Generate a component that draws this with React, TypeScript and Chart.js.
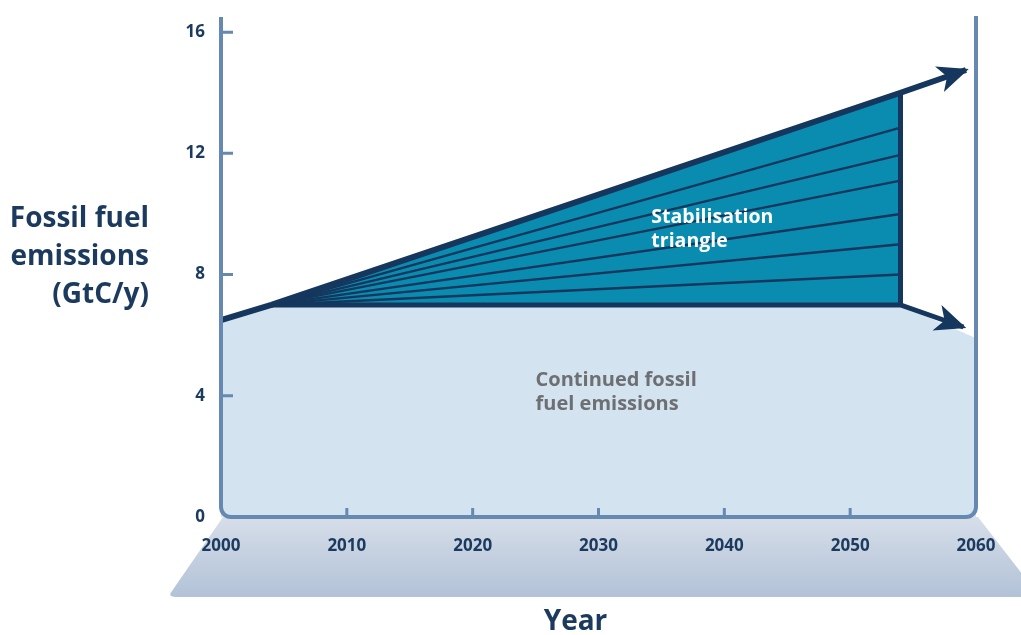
import React, { useEffect, useRef } from "react";
import { Chart, registerables } from "chart.js";

Chart.register(...registerables);

// ---- data ----
const xTickValues = [2000, 2010, 2020, 2030, 2040, 2050, 2060];
const xTickLabels = ["2000", "2010", "2020", "2030", "2040", "2050", "2060"];
const yTickValues = [0, 4, 8, 12, 16];
const yTickLabels = ["0", "4", "8", "12", "16"];

const trajectoryYears = [2000, 2004, 2054, 2059.2];
const trajectoryValues = [6.5, 7, 14, 14.75];

const baselineYears = [2004, 2054, 2059];
const baselineValues = [7, 7, 6.27];

const continuedYears = [2000, 2004, 2054, 2060];
const continuedValues = [6.5, 7, 7, 5.9];

const triangleYears = [2004, 2054];
const triangleValues = [7, 14];

const wedgeStartYear = 2004;
const wedgeStartValue = 7;
const wedgeEndYear = 2054;
const wedgeEndValues = [12.85, 11.95, 11.1, 10, 9, 8];

const edgeYears = [2054, 2054];
const edgeValues = [7, 14];

const yTitleLines = ["Fossil fuel", "emissions", "(GtC/y)"];
const xTitle = "Year";
const triangleLabel = ["Stabilisation", "triangle"];
const continuedLabel = ["Continued fossil", "fuel emissions"];

// ---- styles ----
const NAVY = "#15375d";
const TEXT_NAVY = "#1b3a5e";
const TEAL = "#0a8cb1";
const LIGHT = "#d3e3ef";
const AXIS = "#6689b2";
const GRAY_TEXT = "#6e6f72";
const FONT = "'Open Sans', 'Noto Sans', sans-serif";

const pts = (xs: number[], ys: number[]) => xs.map((x, i) => ({ x, y: ys[i] }));

const framePlugin = {
  id: "frame",
  beforeDraw(chart: any) {
    const { ctx, chartArea } = chart;
    const { left, right, bottom } = chartArea;
    const bandBottom = bottom + 80;
    const g = ctx.createLinearGradient(0, bottom, 0, bandBottom);
    g.addColorStop(0, "#d6dee9");
    g.addColorStop(1, "#b2c2d7");
    ctx.save();
    ctx.fillStyle = g;
    ctx.beginPath();
    ctx.moveTo(left + 2, bottom);
    ctx.lineTo(right + 2, bottom);
    ctx.lineTo(right + 2 + 62, bandBottom);
    const bl = left - 51;
    ctx.lineTo(bl + 6, bandBottom);
    ctx.quadraticCurveTo(bl - 3, bandBottom, bl + 2, bandBottom - 6);
    ctx.closePath();
    ctx.fill();
    ctx.restore();
  },
  afterDatasetsDraw(chart: any) {
    const { ctx, chartArea, scales } = chart;
    const { left, right, top, bottom } = chartArea;
    const xs = scales.x;
    const ys = scales.y;
    ctx.save();
    // frame
    ctx.strokeStyle = AXIS;
    ctx.lineWidth = 4;
    ctx.lineJoin = "round";
    const r = 10;
    ctx.beginPath();
    ctx.moveTo(left, top);
    ctx.arcTo(left, bottom, left + r, bottom, r);
    ctx.arcTo(right, bottom, right, bottom - r, r);
    ctx.lineTo(right, top - 1);
    ctx.stroke();
    // ticks
    ctx.lineWidth = 3;
    ctx.beginPath();
    yTickValues.forEach((v) => {
      if (v === 0) return;
      const y = ys.getPixelForValue(v);
      ctx.moveTo(left, y);
      ctx.lineTo(left + 12, y);
    });
    xTickValues.forEach((v) => {
      if (v === xs.min || v === xs.max) return;
      const x = xs.getPixelForValue(v);
      ctx.moveTo(x, bottom);
      ctx.lineTo(x, bottom - 9);
    });
    ctx.stroke();

    // arrowheads
    chart.data.datasets.forEach((ds: any, i: number) => {
      if (!ds.arrow) return;
      const meta = chart.getDatasetMeta(i);
      const n = meta.data.length;
      const p1 = meta.data[n - 2];
      const p2 = meta.data[n - 1];
      const dx = p2.x - p1.x;
      const dy = p2.y - p1.y;
      const len = Math.hypot(dx, dy);
      const ux = dx / len;
      const uy = dy / len;
      const nx = -uy;
      const ny = ux;
      const L = 31;
      const W = 13.5;
      const tx = p2.x + ux * 3;
      const ty = p2.y + uy * 3;
      ctx.fillStyle = NAVY;
      ctx.beginPath();
      ctx.moveTo(tx, ty);
      ctx.lineTo(tx - ux * L + nx * W, ty - uy * L + ny * W);
      ctx.lineTo(tx - ux * L * 0.74, ty - uy * L * 0.74);
      ctx.lineTo(tx - ux * L - nx * W, ty - uy * L - ny * W);
      ctx.closePath();
      ctx.fill();
    });

    // tick labels
    ctx.fillStyle = TEXT_NAVY;
    ctx.font = `bold 17px ${FONT}`;
    ctx.textAlign = "right";
    ctx.textBaseline = "middle";
    yTickValues.forEach((v, i) => {
      ctx.fillText(yTickLabels[i], left - 16, ys.getPixelForValue(v));
    });
    ctx.textAlign = "center";
    xTickValues.forEach((v, i) => {
      ctx.fillText(xTickLabels[i], xs.getPixelForValue(v), bottom + 29);
    });

    // axis titles
    ctx.font = `bold 28px ${FONT}`;
    ctx.textAlign = "right";
    yTitleLines.forEach((t, i) => {
      ctx.fillText(t, 149, 219 + i * 38);
    });
    ctx.textAlign = "center";
    ctx.font = `bold 28px ${FONT}`;
    ctx.fillText(xTitle, (left + right) / 2 - 23, bottom + 105);

    // annotations
    ctx.textAlign = "left";
    ctx.font = `bold 19.5px ${FONT}`;
    ctx.fillStyle = "#ffffff";
    triangleLabel.forEach((t, i) => {
      ctx.fillText(t, xs.getPixelForValue(2034.2), ys.getPixelForValue(9.9) + i * 24);
    });
    ctx.font = `bold 20px ${FONT}`;
    ctx.fillStyle = GRAY_TEXT;
    continuedLabel.forEach((t, i) => {
      ctx.fillText(t, xs.getPixelForValue(2025), ys.getPixelForValue(4.5) + i * 24);
    });
    ctx.restore();
  },
};

export default function App() {
  const ref = useRef<HTMLCanvasElement | null>(null);
  useEffect(() => {
    if (!ref.current) return;
    const line = (data: any[], extra: any) => ({
      data,
      pointRadius: 0,
      tension: 0,
      clip: false,
      fill: false,
      ...extra,
    });
    const datasets: any[] = [
      line(pts(continuedYears, continuedValues), {
        fill: "origin",
        backgroundColor: LIGHT,
        borderWidth: 0,
        order: 10,
      }),
      line(pts(triangleYears, triangleValues), {
        fill: { value: 7 },
        backgroundColor: TEAL,
        borderWidth: 0,
        order: 9,
      }),
      ...wedgeEndValues.map((v) =>
        line(
          [
            { x: wedgeStartYear, y: wedgeStartValue },
            { x: wedgeEndYear, y: v },
          ],
          { borderColor: NAVY, borderWidth: 2.5, order: 5 }
        )
      ),
      line(pts(edgeYears, edgeValues), { borderColor: NAVY, borderWidth: 5, order: 3 }),
      line(pts(baselineYears, baselineValues), {
        borderColor: NAVY,
        borderWidth: 5,
        order: 2,
        arrow: true,
        borderJoinStyle: "miter",
      }),
      line(pts(trajectoryYears, trajectoryValues), {
        borderColor: NAVY,
        borderWidth: 6,
        order: 1,
        arrow: true,
        borderJoinStyle: "miter",
      }),
    ];
    const chart = new Chart(ref.current, {
      type: "line",
      data: { datasets },
      options: {
        responsive: false,
        animation: false,
        layout: { padding: { left: 221, right: 45, top: 17, bottom: 118 } },
        plugins: { legend: { display: false }, tooltip: { enabled: false } },
        scales: {
          x: { type: "linear", min: 2000, max: 2060, display: false },
          y: { type: "linear", min: 0, max: 16.5, display: false },
        },
      },
      plugins: [framePlugin],
    });
    return () => chart.destroy();
  }, []);
  return (
    <div style={{ position: "absolute", left: 0, top: 0, width: 1021, height: 635, background: "#fff" }}>
      <canvas ref={ref} width={1021} height={635} style={{ display: "block" }} />
    </div>
  );
}
